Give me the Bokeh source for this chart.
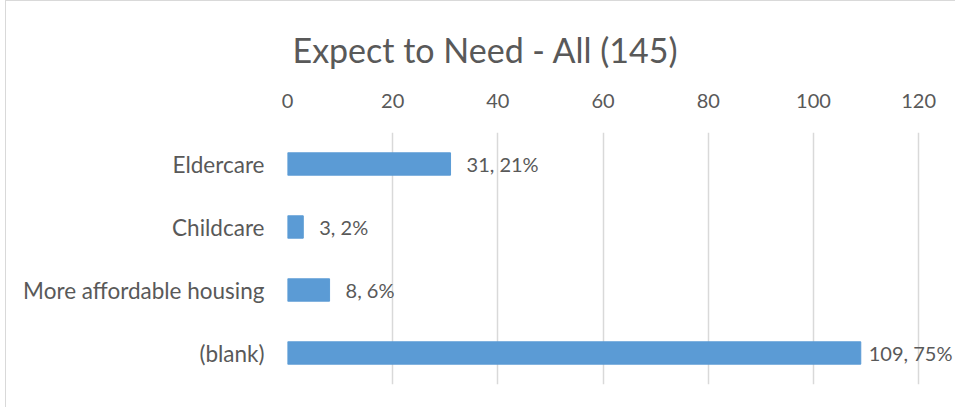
from bokeh.plotting import figure
from bokeh.models import Range1d, FactorRange, ColumnDataSource, FixedTicker, LabelSet, Title
from bokeh.core.properties import value
from bokeh.embed import file_html
from bokeh.resources import INLINE

categories = ["Eldercare", "Childcare", "More affordable housing", "(blank)"]
counts = [31, 3, 8, 109]
percents = ["21%", "2%", "6%", "75%"]
x_ticks = [0, 20, 40, 60, 80, 100, 120]
title_text = "Expect to Need - All (145)"

label_offsets = [16, 16, 16, 8]  # styling only

FONT = "Lato"
TEXT = "#595959"
BAR = "#5B9BD5"

src = ColumnDataSource(dict(
    cat=categories,
    n=counts,
    lab=[f"{c}, {p}" for c, p in zip(counts, percents)],
    off=label_offsets,
))

p = figure(
    width=950, height=407,
    y_range=FactorRange(factors=list(reversed(categories)), range_padding=0),
    x_range=Range1d(0, 127.2),
    output_backend="svg", toolbar_location=None,
    x_axis_location="above",
    min_border_left=281, min_border_right=0, min_border_top=131, min_border_bottom=24,
)
p.styles = {"border-left": "1px solid #d9d9d9", "border-top": "1px solid #d9d9d9"}
p.margin = (0, 0, 0, 5)
p.outline_line_color = None
p.background_fill_color = "white"
p.border_fill_color = "white"

p.hbar(y="cat", right="n", height=0.355, source=src, fill_color=BAR, line_color=BAR)

labels = LabelSet(x="n", y="cat", text="lab", source=src, x_offset="off",
                  text_font=value(FONT), text_font_size=value("20px"), text_color=value(TEXT),
                  text_baseline="middle", text_align="left")
p.add_layout(labels)

t = Title(text=title_text, align="left", text_font=FONT, text_font_size="34px",
          text_color=TEXT, text_font_style="normal", offset=5, standoff=42)
p.add_layout(t, "above")

p.xaxis.ticker = FixedTicker(ticks=x_ticks)
p.xaxis.axis_line_color = None
p.xaxis.major_tick_line_color = None
p.xaxis.minor_tick_line_color = None
p.xaxis.major_label_text_font = FONT
p.xaxis.major_label_text_font_size = "20px"
p.xaxis.major_label_text_color = TEXT
p.xaxis.major_label_standoff = 19

p.yaxis.axis_line_color = None
p.yaxis.major_tick_line_color = None
p.yaxis.minor_tick_line_color = None
p.yaxis.major_label_text_font = FONT
p.yaxis.major_label_text_font_size = "22.5px"
p.yaxis.major_label_text_color = TEXT
p.yaxis.major_label_standoff = 17

p.ygrid.grid_line_color = None
p.xgrid.grid_line_color = "#d9d9d9"
p.xgrid.grid_line_width = 1.5

open("out.html", "w").write(file_html(p, INLINE))
